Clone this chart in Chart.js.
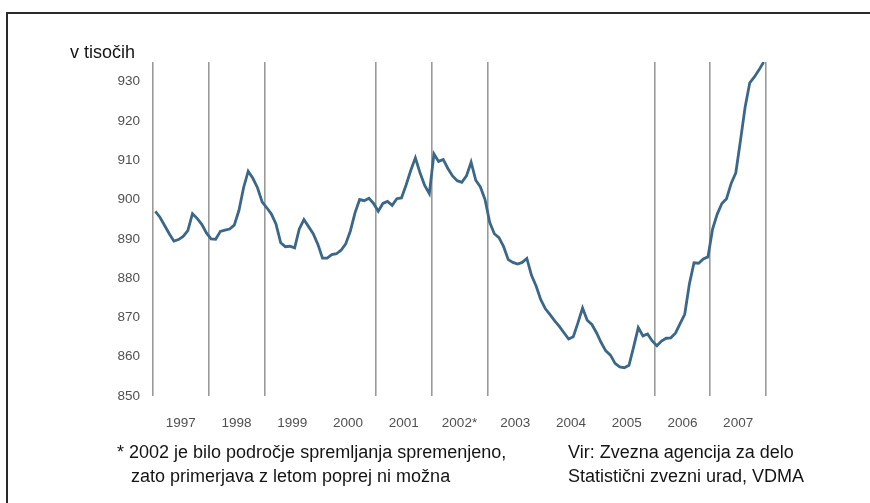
<!DOCTYPE html>
<html>
<head>
<meta charset="utf-8">
<script src="https://cdn.jsdelivr.net/npm/chart.js@4.4.1/dist/chart.umd.min.js"></script>
<style>
  html, body { margin: 0; padding: 0; background: #ffffff; }
  #wrap { position: relative; width: 870px; height: 503px; overflow: hidden; font-family: "Liberation Sans", Arial, sans-serif; }
  #c { position: absolute; left: 0; top: 0; }
  .txt { position: absolute; font-size: 18px; line-height: 18px; color: #141414; white-space: nowrap; }
  #bt { position: absolute; left: 7px; top: 12px; width: 870px; height: 1.5px; background: #2a2a2a; }
  #bl { position: absolute; left: 6px; top: 12px; width: 1.5px; height: 500px; background: #2a2a2a; }
</style>
</head>
<body>
<div id="wrap">
  <canvas id="c" width="870" height="503"></canvas>
  <div id="bt"></div>
  <div id="bl"></div>
  <div class="txt" style="left:70px; top:43px;">v tisočih</div>
  <div class="txt" style="left:117px; top:443px;">* 2002 je bilo področje spremljanja spremenjeno,</div>
  <div class="txt" style="left:131px; top:467px;">zato primerjava z letom poprej ni možna</div>
  <div class="txt" style="left:568px; top:443px;">Vir: Zvezna agencija za delo</div>
  <div class="txt" style="left:568px; top:467px;">Statistični zvezni urad, VDMA</div>
</div>
<script>
// Year labels on the x axis
const yearLabels = ["1997", "1998", "1999", "2000", "2001", "2002*", "2003", "2004", "2005", "2006", "2007"];
// Month offsets (from Jan 1997) where vertical divider lines are drawn
const dividerMonths = [0, 12, 24, 48, 60, 72, 108, 120, 132];
// Y tick labels
const yTicks = [850, 860, 870, 880, 890, 900, 910, 920, 930];

// Monthly values (thousands), one array per year
const v1997 = [897.0, 895.5, 893.4, 891.3, 889.4, 889.8, 890.6, 892.1, 896.4, 895.2, 893.7, 891.5];
const v1998 = [890.0, 889.9, 891.9, 892.2, 892.5, 893.5, 897.2, 903.0, 907.2, 905.4, 903.0, 899.4];
const v1999 = [897.9, 896.3, 893.7, 889.0, 888.0, 888.1, 887.7, 892.5, 894.9, 893.1, 891.3, 888.6];
const v2000 = [885.1, 885.1, 886.0, 886.2, 887.1, 888.7, 892.0, 896.6, 900.0, 899.7, 900.3, 899.0];
const v2001 = [897.0, 899.0, 899.5, 898.5, 900.2, 900.4, 903.7, 907.4, 910.6, 906.8, 903.6, 901.5];
const v2002 = [911.6, 909.7, 910.2, 907.9, 906.0, 904.8, 904.4, 906.0, 909.5, 904.9, 903.2, 900.0];
const v2003 = [894.2, 891.3, 890.3, 888.0, 884.7, 884.0, 883.6, 884.0, 885.0, 880.7, 878.0, 874.5];
const v2004 = [872.2, 870.7, 869.1, 867.7, 866.1, 864.5, 865.1, 868.6, 872.4, 869.3, 868.2, 866.1];
const v2005 = [863.6, 861.5, 860.4, 858.3, 857.4, 857.2, 857.8, 862.5, 867.4, 865.3, 865.8, 864.0];
const v2006 = [862.8, 864.0, 864.7, 864.8, 866.0, 868.4, 870.8, 878.5, 883.9, 883.8, 884.9, 885.4];
const v2007 = [892.5, 896.3, 899.0, 900.2, 904.1, 906.8, 915.0, 923.5, 929.7, 931.2, 933.0, 935.0];

const values = [].concat(v1997, v1998, v1999, v2000, v2001, v2002, v2003, v2004, v2005, v2006, v2007);
const points = values.map((v, i) => ({ x: i + 0.5, y: v }));

const tickFont = { family: '"Liberation Sans", Arial, sans-serif', size: 13.5 };
const tickColor = '#505050';

new Chart(document.getElementById('c'), {
  type: 'line',
  data: {
    datasets: [{
      data: points,
      borderColor: '#3b6788',
      borderWidth: 2.8,
      pointRadius: 0,
      tension: 0,
      fill: false
    }]
  },
  options: {
    responsive: false,
    animation: false,
    events: [],
    layout: { padding: { left: 100, right: 104, top: 62, bottom: 67 } },
    plugins: { legend: { display: false }, tooltip: { enabled: false } },
    scales: {
      x: {
        type: 'linear',
        min: 0,
        max: 132,
        afterBuildTicks: (scale) => {
          const t = [];
          for (let m = 0; m <= 132; m += 6) t.push({ value: m });
          scale.ticks = t;
        },
        afterFit: (scale) => { scale.height = 40; },
        grid: {
          drawTicks: false,
          lineWidth: 1.6,
          color: (ctx) => (ctx.tick && dividerMonths.includes(ctx.tick.value)) ? '#9a9a9a' : 'rgba(0,0,0,0)'
        },
        border: { display: false },
        ticks: {
          autoSkip: false,
          maxRotation: 0,
          padding: 19,
          font: tickFont,
          color: tickColor,
          callback: (v) => (v % 12 === 6) ? yearLabels[(v - 6) / 12] : ''
        }
      },
      y: {
        min: 850,
        max: 935,
        afterBuildTicks: (scale) => { scale.ticks = yTicks.map(v => ({ value: v })); },
        afterFit: (scale) => { scale.width = 53; },
        grid: { display: false, drawTicks: false },
        border: { display: false },
        ticks: { padding: 13, font: tickFont, color: tickColor }
      }
    }
  }
});
</script>
</body>
</html>
